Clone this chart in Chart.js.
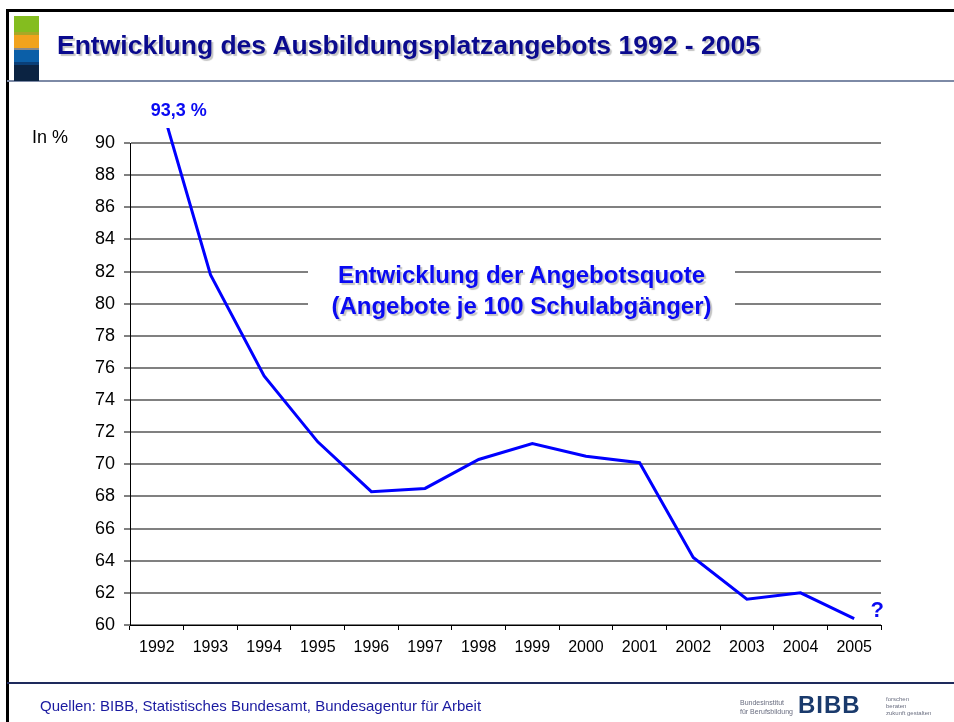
<!DOCTYPE html>
<html>
<head>
<meta charset="utf-8">
<script src="https://cdn.jsdelivr.net/npm/chart.js@4/dist/chart.umd.min.js"></script>
<style>
  html, body { margin: 0; padding: 0; background: #fff; }
  body { width: 954px; height: 722px; position: relative; overflow: hidden; font-family: "Liberation Sans", Arial, sans-serif; }
  #c { position: absolute; left: 0; top: 0; }
  .abs { position: absolute; white-space: nowrap; }
  #frameTop { left: 6px; top: 9px; width: 948px; height: 3px; background: #000; }
  #frameLeft { left: 6px; top: 9px; width: 3px; height: 713px; background: #000; }
  #titleLine { left: 7px; top: 80px; width: 947px; height: 2px; background: #7d8aa6; }
  #footLine { left: 7px; top: 682px; width: 947px; height: 2px; background: #1e2a5c; }
  .sq { position: absolute; left: 14px; width: 25px; }
  #title { left: 57px; top: 30px; font-size: 26.5px; font-weight: bold; color: #0a0a8e; text-shadow: 2px 2px 1px #c4c4c4; }
  #unit { left: 32px; top: 127px; font-size: 18px; color: #000; }
  #center { left: 308px; top: 259px; width: 427px; height: 62px; background: #fff; text-align: center; font-size: 24px; font-weight: bold; color: #0a0af2; text-shadow: 2px 2px 1px #c4c4c4; line-height: 31px; }
  #foot { left: 40px; top: 697px; font-size: 15px; color: #1a1aa0; }
  #bibb { left: 798px; top: 691px; font-size: 24px; font-weight: bold; color: #1a3a6c; letter-spacing: 1px; }
  .small { position: absolute; font-size: 6px; line-height: 7px; color: #6a6e80; white-space: nowrap; }
</style>
</head>
<body>
<canvas id="c" width="954" height="722"></canvas>
<div class="abs" id="frameTop"></div>
<div class="abs" id="frameLeft"></div>
<div class="abs" id="titleLine"></div>
<div class="abs" id="footLine"></div>
<div class="sq" style="top:16px;height:16px;background:#84bd1f;"></div>
<div class="sq" style="top:32px;height:3px;background:#a8a826;"></div>
<div class="sq" style="top:35px;height:13px;background:#f1a31d;"></div>
<div class="sq" style="top:48px;height:2px;background:#8a8a8a;"></div>
<div class="sq" style="top:50px;height:12px;background:#0b5fa8;"></div>
<div class="sq" style="top:62px;height:3px;background:#0a3f78;"></div>
<div class="sq" style="top:65px;height:16px;background:#0b2342;"></div>
<div class="abs" id="title">Entwicklung des Ausbildungsplatzangebots 1992 - 2005</div>
<div class="abs" id="unit">In %</div>
<div class="abs" id="center">Entwicklung der Angebotsquote<br>(Angebote je 100 Schulabgänger)</div>
<div class="abs" id="foot">Quellen: BIBB, Statistisches Bundesamt, Bundesagentur für Arbeit</div>
<div class="small" style="left:740px;top:698px;font-size:7px;line-height:9px;">Bundesinstitut<br>für Berufsbildung</div>
<div class="abs" id="bibb">BIBB</div>
<div class="small" style="left:886px;top:696px;">forschen<br>beraten<br>zukunft gestalten</div>
<script>
const years = ['1992','1993','1994','1995','1996','1997','1998','1999','2000','2001','2002','2003','2004','2005'];
const angebotsquote = [93.3, 81.8, 75.5, 71.4, 68.3, 68.5, 70.3, 71.3, 70.5, 70.1, 64.2, 61.6, 62.0, 60.4];
const startLabel = '93,3 %';
const endLabel = '?';

const annotations = {
  id: 'annotations',
  afterDatasetsDraw(chart) {
    const ctx = chart.ctx;
    const x = chart.scales.x;
    const area = chart.chartArea;
    ctx.save();
    ctx.fillStyle = '#0a0af2';
    ctx.textAlign = 'center';
    ctx.textBaseline = 'middle';
    ctx.font = 'bold 18px "Liberation Sans", Arial, sans-serif';
    ctx.fillText(startLabel, x.getPixelForValue(0) + 22, area.top - 32);
    ctx.font = 'bold 22px "Liberation Sans", Arial, sans-serif';
    ctx.fillText(endLabel, x.getPixelForValue(years.length - 1) + 23, chart.scales.y.getPixelForValue(60.9));
    ctx.restore();
  }
};

new Chart(document.getElementById('c'), {
  type: 'line',
  data: {
    labels: years,
    datasets: [{
      data: angebotsquote,
      borderColor: '#0000ff',
      borderWidth: 3,
      pointRadius: 0,
      tension: 0,
      fill: false,
      clip: { left: 5, top: 15, right: 5, bottom: 5 }
    }]
  },
  options: {
    responsive: false,
    animation: false,
    layout: { padding: { left: 0, top: 143, right: 73, bottom: 0 } },
    plugins: { legend: { display: false }, tooltip: { enabled: false } },
    scales: {
      x: {
        offset: true,
        afterFit(s) { s.height = 97; },
        grid: { display: true, offset: true, drawOnChartArea: false, drawTicks: true, tickLength: 5, tickColor: '#000', lineWidth: 1 },
        border: { color: '#000', width: 1 },
        ticks: { color: '#000', padding: 8, font: { family: '"Liberation Sans", Arial, sans-serif', size: 16 }, maxRotation: 0, autoSkip: false }
      },
      y: {
        min: 60, max: 90,
        afterFit(s) { s.width = 130; },
        grid: { color: '#808080', lineWidth: 2, tickLength: 6, tickColor: '#000', tickWidth: 1 },
        border: { color: '#000', width: 1 },
        ticks: { stepSize: 2, color: '#000', padding: 9, font: { family: '"Liberation Sans", Arial, sans-serif', size: 18 } }
      }
    }
  },
  plugins: [annotations]
});
</script>
</body>
</html>
